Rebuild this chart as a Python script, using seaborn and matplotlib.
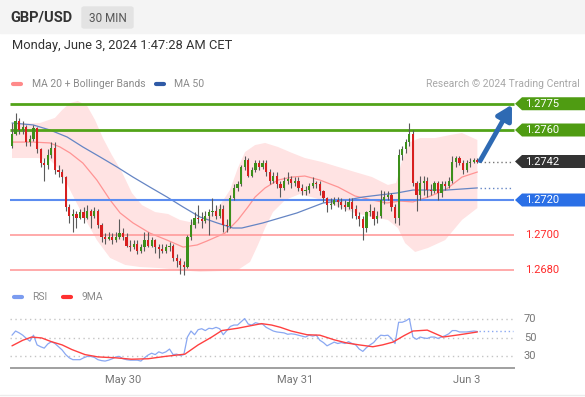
# gbpusd_chart.py
import numpy as np
import matplotlib
matplotlib.use("Agg")
import matplotlib.pyplot as plt
import matplotlib.transforms as mtransforms
from matplotlib.patches import Polygon, Rectangle, FancyBboxPatch
from matplotlib.lines import Line2D
import seaborn as sns

# --- 30 min candles, GBP/USD (bar index 0 = May 29 08:30) ---
opens = [1.2751, 1.2758, 1.2765, 1.2760, 1.2762, 1.2753, 1.2755, 1.2761, 1.2749, 1.2741,
         1.2740, 1.2746, 1.2750, 1.2737, 1.2736, 1.2733, 1.2716, 1.2711, 1.2712, 1.2710,
         1.2713, 1.2710, 1.2714, 1.2711, 1.2714, 1.2706, 1.2699, 1.2698, 1.2699, 1.2697,
         1.2699, 1.2701, 1.2699, 1.2694, 1.2693, 1.2695, 1.2691, 1.2693, 1.2697, 1.2694,
         1.2697, 1.2693, 1.2692, 1.2691, 1.2693, 1.2694, 1.2687, 1.2685, 1.2683, 1.2682,
         1.2699, 1.2706, 1.2710, 1.2709, 1.2708, 1.2711, 1.2713, 1.2714, 1.2711, 1.2715,
         1.2706, 1.2705, 1.2721, 1.2727, 1.2729, 1.2739, 1.2743, 1.2734, 1.2737, 1.2741,
         1.2739, 1.2741, 1.2736, 1.2731, 1.2734, 1.2729, 1.2727, 1.2731, 1.2732, 1.2730,
         1.2731, 1.2727, 1.2725, 1.2726, 1.2728, 1.2730, 1.2729, 1.2725, 1.2721, 1.2717,
         1.2718, 1.2720, 1.2719, 1.2717, 1.2716, 1.2719, 1.2715, 1.2711, 1.2709, 1.2704,
         1.2713, 1.2714, 1.2709, 1.2711, 1.2720, 1.2722, 1.2723, 1.2716, 1.2710, 1.2746,
         1.2749, 1.2753, 1.2758, 1.2730, 1.2723, 1.2730, 1.2731, 1.2726, 1.2725, 1.2730,
         1.2724, 1.2729, 1.2728, 1.2731, 1.2742, 1.2744, 1.2741, 1.2737, 1.2741, 1.2742,
         1.2743]
highs = [1.2764, 1.2770, 1.2767, 1.2765, 1.2763, 1.2757, 1.2763, 1.2762, 1.2750, 1.2744,
         1.2749, 1.2753, 1.2753, 1.2740, 1.2738, 1.2734, 1.2718, 1.2715, 1.2714, 1.2715,
         1.2716, 1.2717, 1.2715, 1.2716, 1.2715, 1.2707, 1.2701, 1.2702, 1.2701, 1.2702,
         1.2709, 1.2704, 1.2701, 1.2697, 1.2697, 1.2697, 1.2695, 1.2702, 1.2702, 1.2699,
         1.2698, 1.2695, 1.2695, 1.2695, 1.2696, 1.2695, 1.2689, 1.2687, 1.2685, 1.2700,
         1.2709, 1.2713, 1.2717, 1.2713, 1.2714, 1.2715, 1.2721, 1.2717, 1.2718, 1.2717,
         1.2709, 1.2723, 1.2729, 1.2731, 1.2740, 1.2745, 1.2744, 1.2739, 1.2743, 1.2743,
         1.2743, 1.2743, 1.2738, 1.2736, 1.2736, 1.2731, 1.2733, 1.2736, 1.2734, 1.2733,
         1.2733, 1.2729, 1.2728, 1.2730, 1.2733, 1.2731, 1.2731, 1.2726, 1.2722, 1.2721,
         1.2722, 1.2722, 1.2721, 1.2720, 1.2721, 1.2721, 1.2717, 1.2713, 1.2711, 1.2714,
         1.2718, 1.2716, 1.2714, 1.2726, 1.2725, 1.2725, 1.2724, 1.2718, 1.2749, 1.2751,
         1.2755, 1.2764, 1.2760, 1.2731, 1.2734, 1.2734, 1.2733, 1.2729, 1.2731, 1.2731,
         1.2731, 1.2731, 1.2733, 1.2745, 1.2745, 1.2745, 1.2743, 1.2743, 1.2744, 1.2744,
         1.2744]
lows = [1.2750, 1.2757, 1.2758, 1.2758, 1.2751, 1.2751, 1.2754, 1.2747, 1.2739, 1.2731,
        1.2738, 1.2744, 1.2735, 1.2733, 1.2730, 1.2714, 1.2707, 1.2702, 1.2704, 1.2709,
        1.2707, 1.2709, 1.2704, 1.2710, 1.2704, 1.2696, 1.2695, 1.2697, 1.2695, 1.2696,
        1.2698, 1.2697, 1.2693, 1.2691, 1.2692, 1.2689, 1.2690, 1.2691, 1.2693, 1.2693,
        1.2690, 1.2687, 1.2690, 1.2690, 1.2691, 1.2685, 1.2682, 1.2678, 1.2677, 1.2681,
        1.2697, 1.2704, 1.2707, 1.2704, 1.2707, 1.2700, 1.2711, 1.2709, 1.2710, 1.2702,
        1.2702, 1.2704, 1.2720, 1.2725, 1.2728, 1.2737, 1.2733, 1.2733, 1.2736, 1.2737,
        1.2738, 1.2734, 1.2729, 1.2730, 1.2727, 1.2722, 1.2726, 1.2729, 1.2727, 1.2728,
        1.2725, 1.2723, 1.2723, 1.2724, 1.2727, 1.2727, 1.2723, 1.2719, 1.2713, 1.2715,
        1.2717, 1.2716, 1.2715, 1.2714, 1.2715, 1.2710, 1.2709, 1.2705, 1.2697, 1.2702,
        1.2711, 1.2706, 1.2707, 1.2710, 1.2718, 1.2720, 1.2714, 1.2707, 1.2706, 1.2743,
        1.2747, 1.2751, 1.2728, 1.2714, 1.2720, 1.2723, 1.2722, 1.2723, 1.2724, 1.2720,
        1.2722, 1.2726, 1.2727, 1.2730, 1.2739, 1.2740, 1.2735, 1.2736, 1.2739, 1.2741,
        1.2741]
closes = [1.2758, 1.2765, 1.2760, 1.2762, 1.2753, 1.2755, 1.2761, 1.2749, 1.2741, 1.2740,
          1.2746, 1.2750, 1.2737, 1.2736, 1.2733, 1.2716, 1.2711, 1.2712, 1.2710, 1.2713,
          1.2710, 1.2714, 1.2711, 1.2714, 1.2706, 1.2699, 1.2698, 1.2699, 1.2697, 1.2699,
          1.2701, 1.2699, 1.2694, 1.2693, 1.2695, 1.2691, 1.2693, 1.2697, 1.2694, 1.2697,
          1.2693, 1.2692, 1.2691, 1.2693, 1.2694, 1.2687, 1.2685, 1.2683, 1.2682, 1.2699,
          1.2706, 1.2710, 1.2709, 1.2708, 1.2711, 1.2713, 1.2714, 1.2711, 1.2715, 1.2706,
          1.2705, 1.2721, 1.2727, 1.2729, 1.2739, 1.2743, 1.2734, 1.2737, 1.2741, 1.2739,
          1.2741, 1.2736, 1.2731, 1.2734, 1.2729, 1.2727, 1.2731, 1.2732, 1.2730, 1.2731,
          1.2727, 1.2725, 1.2726, 1.2728, 1.2730, 1.2729, 1.2725, 1.2721, 1.2717, 1.2718,
          1.2720, 1.2719, 1.2717, 1.2716, 1.2719, 1.2715, 1.2711, 1.2709, 1.2704, 1.2713,
          1.2714, 1.2709, 1.2711, 1.2720, 1.2722, 1.2723, 1.2716, 1.2710, 1.2746, 1.2749,
          1.2753, 1.2758, 1.2730, 1.2723, 1.2730, 1.2731, 1.2726, 1.2725, 1.2730, 1.2724,
          1.2729, 1.2728, 1.2731, 1.2742, 1.2744, 1.2741, 1.2737, 1.2741, 1.2742, 1.2743,
          1.2742]

# indicators (bar index, price)
ma20_x = [0, 5.9, 10.6, 13.4, 16.2, 19.8, 23.7, 27.4, 30.2, 33.8, 38.5, 43.3, 47.8, 51.7,
          54.5, 59.5, 63.1, 65.9, 67.9, 70.7, 74.3, 78.2, 81.8, 86, 91.1, 95.8, 100.6,
          104.7, 108.4, 112, 116.2, 121, 125.7, 130]
ma20 = [1.27531, 1.27531, 1.27526, 1.27503, 1.27469, 1.27411, 1.27314, 1.27200, 1.27126,
        1.27069, 1.27011, 1.26971, 1.26931, 1.26943, 1.26966, 1.27011, 1.27086, 1.27160,
        1.27217, 1.27269, 1.27314, 1.27331, 1.27337, 1.27314, 1.27274, 1.27223, 1.27200,
        1.27183, 1.27194, 1.27189, 1.27217, 1.27257, 1.27331, 1.27360]
bb_up_x = [0, 7.8, 12, 14, 16.2, 18.4, 21, 23.2, 25.4, 27.9, 30.7, 33.5, 36.3, 40, 43.6,
           46.9, 49.7, 52.5, 55.3, 58.1, 60.9, 63.1, 65.1, 67.9, 70.7, 74.3, 78.2, 81.8,
           86.6, 91.1, 95.8, 100.6, 105, 107.3, 109, 111.2, 114, 118.2, 122.3, 125.7, 130]
bb_up = [1.27634, 1.27640, 1.27669, 1.27714, 1.27754, 1.27766, 1.27737, 1.27657, 1.27554,
         1.27457, 1.27360, 1.27240, 1.27171, 1.27131, 1.27120, 1.27086, 1.27074, 1.27074,
         1.27114, 1.27171, 1.27257, 1.27383, 1.27474, 1.27514, 1.27526, 1.27503, 1.27469,
         1.27440, 1.27417, 1.27389, 1.27360, 1.27331, 1.27286, 1.27297, 1.27429, 1.27531,
         1.27554, 1.27554, 1.27571, 1.27583, 1.27543]
bb_lo_x = [0, 7.3, 10.6, 13.4, 16.2, 19.8, 23.7, 27.4, 31.6, 35.8, 41.3, 46.9, 52.5, 58.1,
           63.1, 66.5, 68.7, 70.7, 72.9, 76.3, 80.4, 86.6, 91.1, 95.8, 100.6, 105, 107.8,
           109.8, 112.6, 116.2, 121, 125.7, 130]
bb_lo = [1.27440, 1.27440, 1.27429, 1.27371, 1.27257, 1.27114, 1.26971, 1.26869, 1.26829,
         1.26817, 1.26811, 1.26800, 1.26789, 1.26794, 1.26800, 1.26846, 1.26943, 1.27040,
         1.27131, 1.27200, 1.27234, 1.27200, 1.27160, 1.27126, 1.27103, 1.27086, 1.27040,
         1.26954, 1.26903, 1.26926, 1.26971, 1.27086, 1.27154]
ma50_x = [0, 5.9, 10.6, 15.4, 19.8, 24.6, 29.3, 33.8, 38.5, 43.3, 47.8, 52.5, 57.3, 61.7,
          64.2, 70.1, 79.6, 86.9, 93.6, 98, 102.8, 107.5, 112, 121.5, 130]
ma50 = [1.27640, 1.27629, 1.27600, 1.27560, 1.27503, 1.27446, 1.27389, 1.27331, 1.27274,
        1.27217, 1.27160, 1.27103, 1.27069, 1.27040, 1.27040, 1.27069, 1.27126, 1.27183,
        1.27200, 1.27217, 1.27229, 1.27240, 1.27257, 1.27257, 1.27269]

rsi = [52.5, 57, 55, 52.5, 49, 46, 52.5, 42, 40, 38.5,
       43, 45.5, 43.5, 40, 36.5, 31.5, 28, 26, 26, 26,
       28, 29.5, 29.5, 28.5, 26, 25, 24.5, 25.5, 27, 29,
       29.5, 27, 26, 25.5, 25.5, 25.5, 24.5, 28, 31, 33,
       31.5, 34.5, 33, 34.5, 37.5, 31.5, 32, 30.5, 31.5, 50.5,
       57, 53, 58.5, 59.5, 57.5, 60, 59.5, 61, 59.5, 53,
       57.5, 62, 63.5, 63.5, 67, 70.5, 64.5, 63.5, 66, 65,
       64.5, 61, 59, 57, 56, 55.5, 55, 53.5, 54, 53.5,
       52.5, 51.5, 50.5, 52.5, 51.5, 52.5, 47, 44.5, 41, 43,
       45, 43.5, 44.5, 43.5, 45.5, 43.5, 42, 37.5, 35, 39,
       42, 44.5, 49, 52.5, 52, 52.5, 49, 43.5, 66.5, 66.5,
       68, 70.5, 50.5, 48, 50.5, 49.5, 49, 50.5, 50.5, 49,
       50.5, 52, 54, 57.5, 57.5, 56, 56, 56, 56.5, 57,
       56.5]
rsi_ma_x = [0, 3, 5.5, 8.3, 11, 14, 16.7, 20.4, 24, 29, 33.4, 38, 42.7, 48.3, 52, 55.8, 58.6,
            63, 67, 69.7, 72.5, 75, 78, 82.4, 86, 90, 93.6, 97, 100.8, 103.5, 106.4, 109.5,
            112, 116, 120.4, 125, 130]
rsi_ma = [41, 47, 50.5, 49.5, 45.5, 42, 37, 31.5, 29, 28, 26.5, 27, 29.5, 32, 42, 50.5, 57.5,
          60, 63, 65, 63.5, 61, 57, 53, 52.5, 47.5, 44, 42, 40, 42, 45, 52, 57, 58, 50.5,
          53, 56]

resistances = [1.2775, 1.2760]
pivot = 1.2720
supports = [1.2700, 1.2680]
rsi_levels = [70, 50, 30]
day_ticks = [31, 79, 127]
day_labels = ["May 30", "May 31", "Jun 3"]

sns.set_style("white")
plt.rcParams['font.family'] = ['Roboto', 'DejaVu Sans']

W, H = 585, 397
fig = plt.figure(figsize=(W / 100, H / 100), dpi=100)


def fx(px):
    return px / W


def fy(py):
    return 1 - py / H


# header
fig.add_artist(Rectangle((0, fy(33)), 1, 33 / H, transform=fig.transFigure,
                         color='#f4f4f4', zorder=0))
fig.add_artist(FancyBboxPatch((fx(82), fy(28)), 51 / W, 21 / H,
                              boxstyle='round,pad=0,rounding_size=0.004',
                              transform=fig.transFigure, color='#e3e3e3', zorder=1))
fig.text(fx(10), fy(18), "GBP/USD", fontsize=10.5, fontweight='bold', color='#333333', va='center')
fig.text(fx(107.5), fy(18), "30 MIN", fontsize=8.5, color='#555555', ha='center', va='center')
fig.text(fx(12), fy(46), "Monday, June 3, 2024 1:47:28 AM CET", fontsize=9.3,
         color='#333333', va='center')

# legends
def swatch(x0, y, color):
    fig.add_artist(Line2D([fx(x0), fx(x0 + 8)], [fy(y), fy(y)], lw=3, color=color,
                          solid_capstyle='round', transform=fig.transFigure))

swatch(13, 84, '#ff8a8a')
fig.text(fx(32), fy(84), "MA 20 + Bollinger Bands", fontsize=7.5, color='#8a8a8a', va='center')
swatch(156, 84, '#2f5aa6')
fig.text(fx(174), fy(84), "MA 50", fontsize=7.5, color='#8a8a8a', va='center')
fig.text(fx(580), fy(84), "Research \u00a9 2024 Trading Central", fontsize=7.5,
         color='#a8a8a8', va='center', ha='right')
swatch(14, 297, '#7b9cf0')
fig.text(fx(32), fy(297), "RSI", fontsize=7.5, color='#8a8a8a', va='center')
swatch(63, 297, '#ff3030')
fig.text(fx(81), fy(297), "9MA", fontsize=7.5, color='#8a8a8a', va='center')

# price panel
XLIM = (-0.56, 160.06)
X_END = 140.2
ax = fig.add_axes([fx(10), fy(280), 575 / W, 185 / H])
ax.set_xlim(*XLIM)
ax.set_ylim(1.267429, 1.2780)
ax.axis('off')

ax.fill(np.concatenate([bb_up_x, bb_lo_x[::-1]]), np.concatenate([bb_up, bb_lo[::-1]]),
        color='#ffe3e3', lw=0, zorder=1)
sns.lineplot(x=ma20_x, y=ma20, ax=ax, color='#ff9494', lw=0.9, zorder=2)
sns.lineplot(x=ma50_x, y=ma50, ax=ax, color='#6585c4', lw=0.9, zorder=2)

for lv in resistances:
    ax.hlines(lv, XLIM[0], X_END, colors='#52a318', lw=2, zorder=2)
ax.hlines(pivot, XLIM[0], X_END, colors='#5b8cf0', lw=1.5, zorder=2)
for lv in supports:
    ax.hlines(lv, XLIM[0], X_END, colors='#ff9c9c', lw=1.2, zorder=2)

o = np.array(opens)
c = np.array(closes)
idx = np.arange(len(closes))
ax.vlines(idx, lows, highs, colors='#5a5a5a', lw=0.8, zorder=3)
body = np.where(np.abs(c - o) < 0.00003, 0.00003, c - o)
cols = np.where(c >= o, '#3c8f1a', '#d81f1f')
ax.bar(idx, body, bottom=o, width=0.62, color=cols, lw=0, zorder=4)

n = len(closes)
ax.hlines(closes[-1], n - 0.3, X_END - 0.3, colors='#777777', lw=1, linestyles=(0, (1, 2)), zorder=2)
ax.hlines(ma50[-1], n - 0.3, X_END - 0.3, colors='#6585c4', lw=1, linestyles=(0, (1, 2)), zorder=2)

trans = mtransforms.blended_transform_factory(ax.transAxes, ax.transData)
yr = ax.get_ylim()[1] - ax.get_ylim()[0]
half = 6.5 / 185 * yr


def frac(px):
    return (px - 10) / 575


def tag(level, color):
    pts = [[frac(515), level], [frac(522), level + half], [1, level + half],
           [1, level - half], [frac(522), level - half]]
    ax.add_patch(Polygon(pts, closed=True, transform=trans, color=color, lw=0,
                         clip_on=False, zorder=5))
    ax.text(frac(525), level, f"{level:.4f}", transform=trans, color='white',
            fontsize=8, va='center', zorder=6)


for lv in resistances:
    tag(lv, '#4f9c12')
tag(closes[-1], '#333333')
tag(pivot, '#2a6fe6')
for lv in supports:
    ax.text(frac(525), lv, f"{lv:.4f}", transform=trans, color='#ff2a2a',
            fontsize=8, va='center')

ax.annotate('', xy=(frac(512), resistances[0] - 0.00005), xycoords=('axes fraction', 'data'),
            xytext=(n - 0.2, closes[-1] + 0.00005), textcoords='data',
            arrowprops=dict(arrowstyle='-|>,head_length=0.8,head_width=0.45', color='#2e6ab3',
                            lw=3.5, mutation_scale=11, shrinkA=0, shrinkB=0),
            zorder=6)

# RSI panel
ax2 = fig.add_axes([fx(10), fy(368), 575 / W, 56 / H])
ax2.set_xlim(*XLIM)
ax2.set_ylim(17.0, 77.6)
for lv in rsi_levels:
    ax2.hlines(lv, XLIM[0], X_END - 0.3, colors='#c4c4c4', lw=1, linestyles=(0, (1, 2.5)))
    ax2.text(frac(524), lv, str(lv), transform=ax2.get_yaxis_transform(),
             color='#777777', fontsize=8, va='center')
sns.lineplot(x=idx, y=rsi, ax=ax2, color='#8aa8f2', lw=0.9)
sns.lineplot(x=rsi_ma_x, y=rsi_ma, ax=ax2, color='#ff4040', lw=1)
ax2.hlines(rsi[-1], n - 0.5, X_END - 0.3, colors='#8aa8f2', lw=1, linestyles=(0, (1, 2)))

for s in ['top', 'right', 'left']:
    ax2.spines[s].set_visible(False)
ax2.spines['bottom'].set_color('#a0a0a0')
ax2.spines['bottom'].set_linewidth(1.4)
ax2.spines['bottom'].set_bounds(XLIM[0] + 0.2, X_END)
ax2.set_yticks([])
ax2.set_xticks(day_ticks)
ax2.set_xticklabels(day_labels)
ax2.tick_params(axis='x', length=0, pad=5, labelsize=8, labelcolor='#777777')
ax2.set_xticks([XLIM[0] + 0.2, X_END], minor=True)
ax2.tick_params(axis='x', which='minor', length=4, width=1.4, color='#a0a0a0', direction='out')
ax2.set_xlabel('')
ax2.set_ylabel('')

fig.add_artist(Line2D([0, 1], [fy(395), fy(395)], lw=1, color='#ececec',
                      transform=fig.transFigure))

fig.savefig('out.png', dpi=100)
